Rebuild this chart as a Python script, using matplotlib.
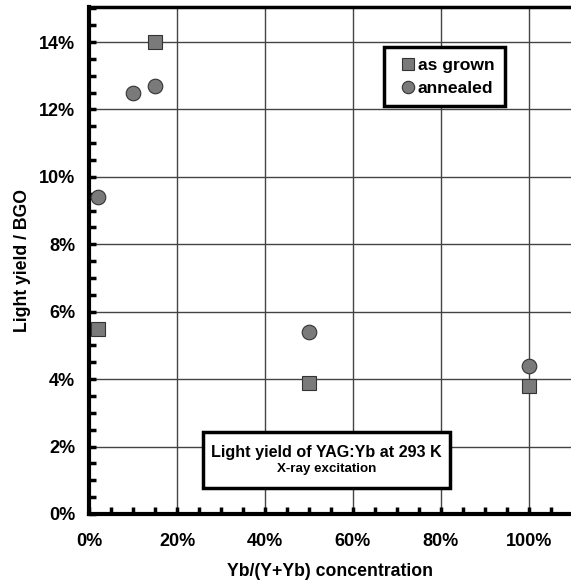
import matplotlib
matplotlib.use("Agg")
import matplotlib.pyplot as plt
from matplotlib.ticker import MultipleLocator, PercentFormatter

plt.rcParams['font.family'] = ['Liberation Sans', 'DejaVu Sans']
plt.rcParams['font.weight'] = 'bold'

# data (fractions)
grown_x = [0.02, 0.15, 0.50, 1.00]
grown_y = [0.055, 0.140, 0.039, 0.038]
annealed_x = [0.02, 0.10, 0.15, 0.50, 1.00]
annealed_y = [0.094, 0.125, 0.127, 0.054, 0.044]

fig = plt.figure(figsize=(5.71, 5.84), dpi=100)
ax = fig.add_axes([0.1559, 0.1199, 0.8441, 0.8681])

ax.plot(grown_x, grown_y, 's', color='#7a7a7a', mec='#333333', mew=0.8,
        ms=10, label='as grown', zorder=3)
ax.plot(annealed_x, annealed_y, 'o', color='#7a7a7a', mec='#333333', mew=0.8,
        ms=10.5, label='annealed', zorder=3)

ax.set_xlim(0, 1.0955)
ax.set_ylim(0, 0.1504)

ax.xaxis.set_major_locator(MultipleLocator(0.2))
ax.xaxis.set_minor_locator(MultipleLocator(0.05))
ax.yaxis.set_major_locator(MultipleLocator(0.02))
ax.yaxis.set_minor_locator(MultipleLocator(0.005))
ax.xaxis.set_major_formatter(PercentFormatter(1.0, decimals=0))
ax.yaxis.set_major_formatter(PercentFormatter(1.0, decimals=0))

ax.grid(True, which='major', color='#444444', lw=1)
ax.set_axisbelow(True)
ax.tick_params(which='both', direction='in', width=2.5, length=5)
ax.tick_params(axis='x', which='major', labelsize=13, pad=14)
ax.tick_params(axis='y', which='major', labelsize=13, pad=10)
for lab in ax.get_xticklabels() + ax.get_yticklabels():
    lab.set_fontweight('bold')

ax.spines['left'].set_linewidth(3)
ax.spines['bottom'].set_linewidth(3)
ax.spines['top'].set_linewidth(2.5)
ax.spines['right'].set_visible(False)

ax.set_xlabel('Yb/(Y+Yb) concentration', fontsize=12.7, fontweight='bold', labelpad=9)
ax.set_ylabel('Light yield / BGO', fontsize=12.7, fontweight='bold', labelpad=6)

leg = ax.legend(loc='upper right', bbox_to_anchor=(0.863, 0.921), fontsize=12.6,
                handletextpad=-0.17, handlelength=1.5, borderpad=0.6, labelspacing=0.45,
                borderaxespad=0, fancybox=False, framealpha=1, edgecolor='black',
                markerscale=0.85)
leg.get_frame().set_linewidth(2.5)
for t in leg.get_texts():
    t.set_fontweight('bold')

ax.text(0.54, 0.0160, 'Light yield of YAG:Yb at 293 K', ha='center', va='bottom',
        fontsize=11.6, fontweight='bold', zorder=5)
ax.text(0.54, 0.0117, 'X-ray excitation', ha='center', va='bottom',
        fontsize=9.6, fontweight='bold', zorder=5)
ax.add_patch(plt.Rectangle((0.2595, 0.0077), 0.5614, 0.0166, facecolor='white',
                           edgecolor='black', lw=2.5, zorder=4))

fig.savefig('out.png', dpi=100)
